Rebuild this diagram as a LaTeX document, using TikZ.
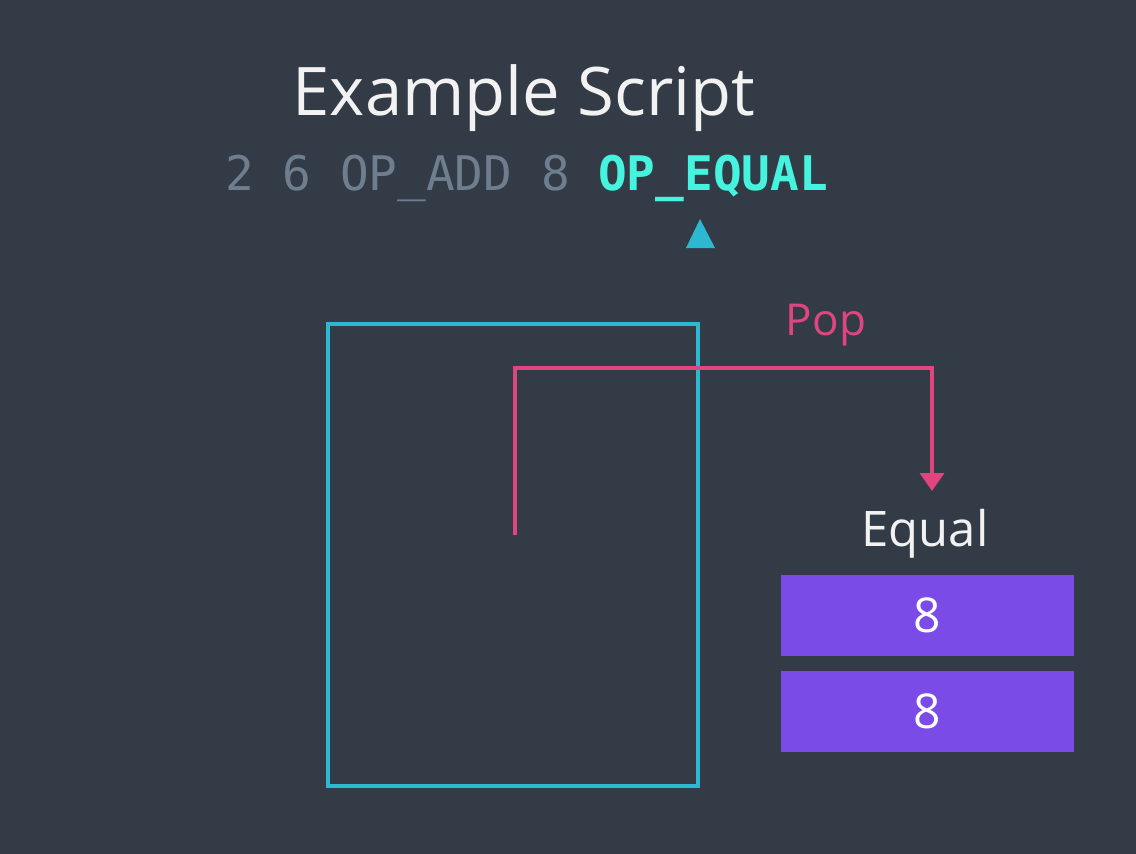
\documentclass[tikz,border=0pt]{standalone}
\usepackage{fontspec}
\setmainfont{Open Sans}
\newfontfamily\codefont{DejaVu Sans Mono}
\usetikzlibrary{arrows.meta}
\definecolor{bg}{HTML}{323B46}
\definecolor{stackc}{HTML}{2BB8D0}
\definecolor{popc}{HTML}{E0457F}
\definecolor{itemc}{HTML}{7A4BE6}
\definecolor{codegray}{HTML}{6E7E8E}
\definecolor{codecyan}{HTML}{46F3DF}
\definecolor{titlec}{HTML}{F2F2F2}
\tikzset{
  txt/.style={inner sep=0pt, anchor=base},
  item/.style={fill=itemc, draw=none, minimum width=293pt, minimum height=81pt, inner sep=0pt, text=white, font=\fontsize{48}{48}\selectfont},
}
\begin{document}
\begin{tikzpicture}[x=1pt,y=-1pt]
\fill[bg] (0,0) rectangle (1136,854);
\useasboundingbox (0,0) rectangle (1136,854);
\node[txt, text=titlec, font=\fontsize{67}{67}\selectfont] (title) at (524,115) {Example Script};
\node[txt, anchor=base west, text=codegray, font=\codefont\fontsize{47.7}{48}\selectfont] (code) at (225,190) {2 6 OP\_ADD 8};
\node[txt, anchor=base west, text=codecyan, font=\codefont\bfseries\fontsize{47.7}{48}\selectfont] (opeq) at (598,190) {OP\_EQUAL};
\fill[stackc] (686,248) -- (700,219) -- (715,248) -- cycle;
\node[draw=stackc, line width=3.5pt, minimum width=370pt, minimum height=462pt, inner sep=0pt] (stack) at (513,555) {};
\coordinate (src) at (515,535);
\node[txt, text=titlec, font=\fontsize{49}{49}\selectfont] (equal) at (925,546) {Equal};
\coordinate (dst) at (932,491);
\draw[popc, line width=3.5pt, -{Triangle[length=18pt,width=24pt]}] (src) |- (932,368) -- (dst);
\node[txt, text=popc, font=\fontsize{44}{44}\selectfont] (pop) at (826,335) {Pop};
\node[item] (i1) at (927.5,615.5) {8};
\node[item] (i2) at (927.5,711.5) {8};
\end{tikzpicture}
\end{document}
